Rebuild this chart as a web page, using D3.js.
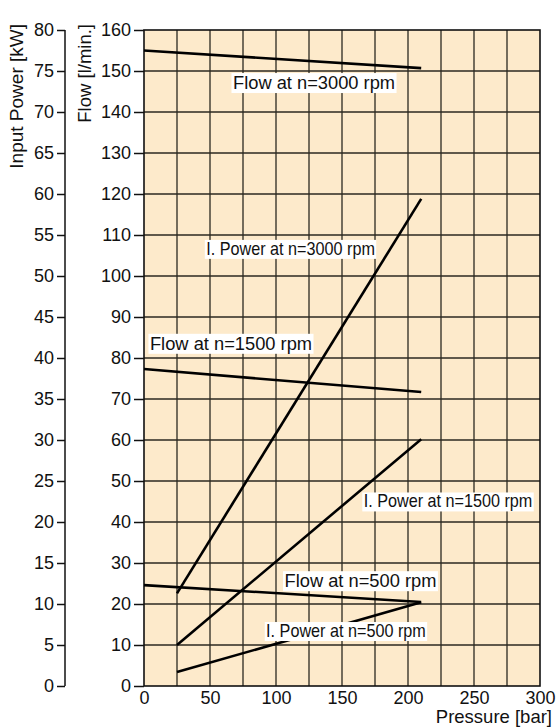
<!DOCTYPE html>
<html>
<head>
<meta charset="utf-8">
<script src="https://cdn.jsdelivr.net/npm/d3@7"></script>
<style>
  html, body { margin: 0; padding: 0; background: #fff; }
  svg { display: block; font-family: "Liberation Sans", Arial, Helvetica, sans-serif; }
</style>
</head>
<body>
<svg id="chart" width="558" height="727"></svg>
<script>
// Pump characteristic: delivered flow and input power versus pressure
const pressureTicks = [0, 50, 100, 150, 200, 250, 300];
const flowTicks = [0, 10, 20, 30, 40, 50, 60, 70, 80, 90, 100, 110, 120, 130, 140, 150, 160];
const powerTicks = [0, 5, 10, 15, 20, 25, 30, 35, 40, 45, 50, 55, 60, 65, 70, 75, 80];

const seriesNames = [
  "Flow at n=3000 rpm", "Flow at n=1500 rpm", "Flow at n=500 rpm",
  "I. Power at n=3000 rpm", "I. Power at n=1500 rpm", "I. Power at n=500 rpm"
];
const seriesKind = ["flow", "flow", "flow", "power", "power", "power"];
const seriesPressure = [
  [0, 210], [0, 210], [0, 210],
  [25, 210], [25, 210], [25, 210]
];
// flow in l/min, power in kW
const seriesValues = [
  [155, 150.7], [77.3, 71.7], [24.6, 20.5],
  [11.3, 59.4], [5.0, 30.1], [1.7, 10.2]
];

const svg = d3.select("#chart");
const plot = { left: 144, right: 540, top: 30, bottom: 686 };

const x = d3.scaleLinear().domain([0, 300]).range([plot.left, plot.right]);
const yFlow = d3.scaleLinear().domain([0, 160]).range([plot.bottom, plot.top]);
const yPower = d3.scaleLinear().domain([0, 80]).range([plot.bottom, plot.top]);

const textColor = "#111";

// background
svg.append("rect")
  .attr("x", plot.left).attr("y", plot.top)
  .attr("width", plot.right - plot.left).attr("height", plot.bottom - plot.top)
  .attr("fill", "#fdeacb");

// grid: every 25 bar and every 10 l/min
const grid = svg.append("g").attr("stroke", "#2b2820").attr("stroke-width", 1.3);
grid.selectAll("line.v").data(d3.range(25, 300, 25)).join("line")
  .attr("x1", d => x(d)).attr("x2", d => x(d))
  .attr("y1", plot.top).attr("y2", plot.bottom);
grid.selectAll("line.h").data(d3.range(10, 160, 10)).join("line")
  .attr("x1", plot.left).attr("x2", plot.right)
  .attr("y1", d => yFlow(d)).attr("y2", d => yFlow(d));

// plot frame
svg.append("rect")
  .attr("x", plot.left).attr("y", plot.top)
  .attr("width", plot.right - plot.left).attr("height", plot.bottom - plot.top)
  .attr("fill", "none").attr("stroke", "#111").attr("stroke-width", 1.6);

// flow axis (left edge of plot)
const flowAxis = svg.append("g")
  .attr("transform", `translate(${plot.left},0)`)
  .call(d3.axisLeft(yFlow).tickValues(flowTicks).tickSize(10).tickPadding(3));
// power axis (outer left)
const powerAxis = svg.append("g")
  .attr("transform", "translate(65,0)")
  .call(d3.axisLeft(yPower).tickValues(powerTicks).tickSize(8).tickPadding(3));
// pressure axis (bottom, labels only)
const pressAxis = svg.append("g")
  .attr("transform", `translate(0,${plot.bottom})`)
  .call(d3.axisBottom(x).tickValues(pressureTicks).tickSize(0).tickPadding(5));

[flowAxis, powerAxis, pressAxis].forEach(g => {
  g.selectAll("text").attr("font-size", 18).attr("fill", textColor)
    .attr("font-family", "'Liberation Sans', Arial, Helvetica, sans-serif");
  g.selectAll("line").attr("stroke", "#111").attr("stroke-width", 1.5);
  g.select(".domain").attr("stroke", "#111").attr("stroke-width", 1.5);
});
powerAxis.select(".domain").attr("d", `M0,${plot.top}V${plot.bottom}`);
flowAxis.select(".domain").remove();
pressAxis.select(".domain").remove();

// axis titles
svg.append("text")
  .attr("transform", "translate(23,24) rotate(-90)")
  .attr("text-anchor", "end").attr("font-size", 19).attr("fill", textColor)
  .text("Input Power [kW]");
svg.append("text")
  .attr("transform", "translate(91,24) rotate(-90)")
  .attr("text-anchor", "end").attr("font-size", 18.5).attr("fill", textColor)
  .text("Flow [l/min.]");
svg.append("text")
  .attr("x", 552).attr("y", 723)
  .attr("text-anchor", "end").attr("font-size", 18.5).attr("fill", textColor)
  .text("Pressure [bar]");

// curves
const lineFor = i => {
  const yS = seriesKind[i] === "flow" ? yFlow : yPower;
  return d3.line().x(d => x(d[0])).y(d => yS(d[1]))(
    seriesPressure[i].map((p, j) => [p, seriesValues[i][j]])
  );
};
svg.append("g").selectAll("path").data(seriesNames).join("path")
  .attr("d", (d, i) => lineFor(i))
  .attr("fill", "none").attr("stroke", "#000").attr("stroke-width", 2.6)
  .attr("stroke-linecap", "butt");

// curve labels: [pressure, value] anchor (centre, baseline) on each curve's own scale
const labelAnchors = [
  [128.8, 145.6], [65.9, 82], [164, 24.1],
  [111, 52.6], [230.3, 21.8], [153, 6]
];
const labels = svg.append("g");
seriesNames.forEach((name, i) => {
  const yS = seriesKind[i] === "flow" ? yFlow : yPower;
  const cx = x(labelAnchors[i][0]);
  const cy = yS(labelAnchors[i][1]);
  const condensed = seriesKind[i] === "power";
  const g = labels.append("g")
    .attr("transform", `translate(${cx},${cy}) scale(${condensed ? 0.9 : 1},1)`);
  const bg = g.append("rect").attr("fill", "#fff");
  const t = g.append("text")
    .attr("text-anchor", "middle").attr("font-size", condensed ? 18 : 18.3)
    .attr("fill", textColor).text(name);
  const bb = t.node().getBBox();
  bg.attr("x", bb.x - 1.5).attr("y", bb.y + 1).attr("width", bb.width + 3).attr("height", bb.height - 1);
});
</script>
</body>
</html>
